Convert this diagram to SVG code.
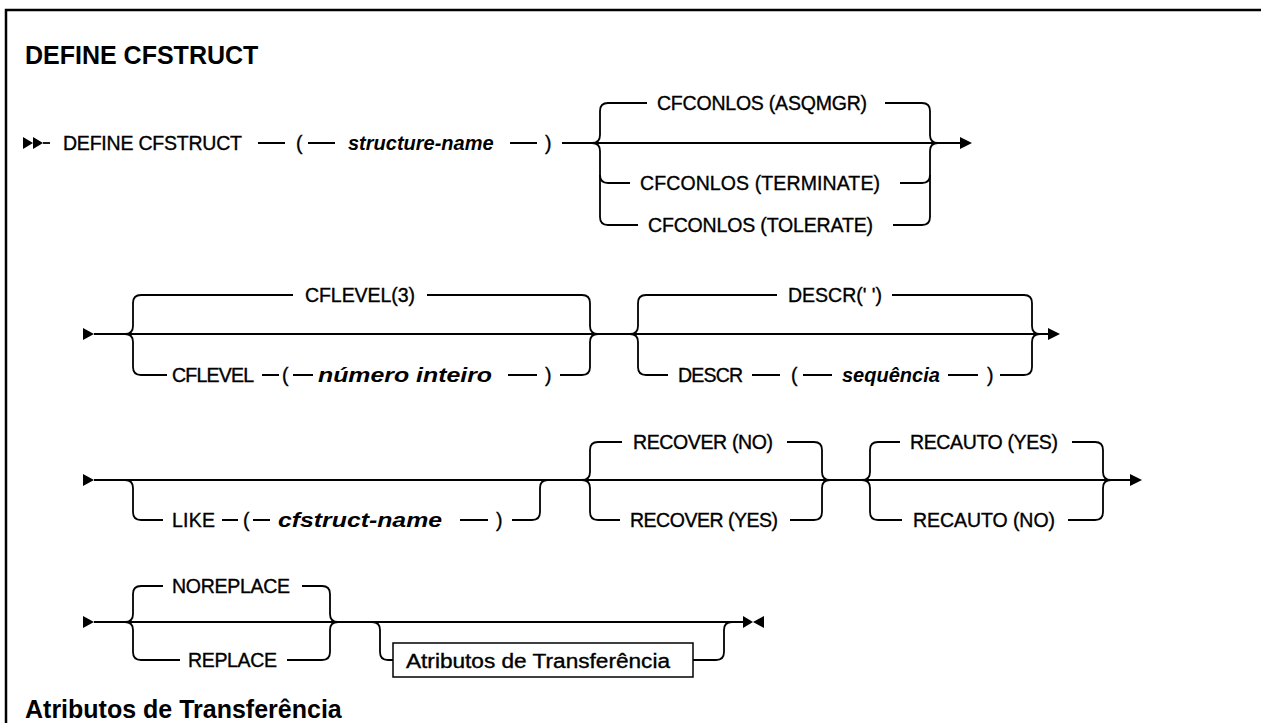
<svg xmlns="http://www.w3.org/2000/svg" width="1261" height="723" viewBox="0 0 1261 723">
  <style>
    .frame { fill: none; stroke: #000; stroke-width: 2.5; }
    .ln { fill: none; stroke: #000; stroke-width: 1.8; }
    .ah { fill: #000; }
    .title { font-family: "Liberation Sans", Arial, sans-serif; font-size: 25px; font-weight: bold; fill: #000; }
    .kw { font-family: "Liberation Sans", Arial, sans-serif; font-size: 19.5px; fill: #000; stroke: #000; stroke-width: 0.35; }
    .var { font-family: "Liberation Sans", Arial, sans-serif; font-size: 20px; font-style: italic; font-weight: bold; fill: #000; }
    .box { fill: #fff; stroke: #000; stroke-width: 1.5; }
  </style>

  <rect width="1261" height="723" fill="#fff"/>
  <path class="frame" d="M6,723 V10 H1261"/>

  <text id="title" class="title" x="25" y="64">DEFINE CFSTRUCT</text>

  <!-- railroad lines, braces and arrowheads -->
  <g id="connectors">
    <!-- row 1 -->
    <polygon class="ah" points="23,137 33,143 23,149"/>
    <polygon class="ah" points="33,137 43,143 33,149"/>
    <path class="ln" d="M43,143 H50"/>
    <path class="ln" d="M258,143 H285 M308,143 H335 M510,143 H537 M562,143 H960"/>
    <polygon class="ah" points="960,137 972,143 960,149"/>
    <path class="ln" d="M592,143 Q600,143 600,135 V111 Q600,103 608,103 H647"/>
    <path class="ln" d="M592,143 Q600,143 600,151 V217 Q600,225 608,225 H638"/>
    <path class="ln" d="M600,175 Q600,183 608,183 H630"/>
    <path class="ln" d="M885,103 H922 Q930,103 930,111 V135 Q930,143 938,143"/>
    <path class="ln" d="M893,225 H922 Q930,225 930,217 V151 Q930,143 938,143"/>
    <path class="ln" d="M900,183 H922 Q930,183 930,175"/>

    <!-- row 2 -->
    <polygon class="ah" points="83,328 94,334 83,340"/>
    <path class="ln" d="M94,334 H1048"/>
    <polygon class="ah" points="1048,328 1060,334 1048,340"/>
    <path class="ln" d="M125,334 Q133,334 133,326 V303 Q133,295 141,295 H293"/>
    <path class="ln" d="M125,334 Q133,334 133,342 V367 Q133,375 141,375 H167"/>
    <path class="ln" d="M262,375 H279 M293,375 H313 M508,375 H537"/>
    <path class="ln" d="M427,295 H582 Q590,295 590,303 V326 Q590,334 598,334"/>
    <path class="ln" d="M560,375 H582 Q590,375 590,367 V342 Q590,334 598,334"/>
    <path class="ln" d="M630,334 Q638,334 638,326 V303 Q638,295 646,295 H777"/>
    <path class="ln" d="M630,334 Q638,334 638,342 V367 Q638,375 646,375 H668"/>
    <path class="ln" d="M752,375 H780 M803,375 H832 M948,375 H978"/>
    <path class="ln" d="M892,295 H1024 Q1032,295 1032,303 V326 Q1032,334 1040,334"/>
    <path class="ln" d="M1000,375 H1024 Q1032,375 1032,367 V342 Q1032,334 1040,334"/>

    <!-- row 3 -->
    <polygon class="ah" points="83,474 94,480 83,486"/>
    <path class="ln" d="M94,480 H1130"/>
    <polygon class="ah" points="1130,474 1142,480 1130,486"/>
    <path class="ln" d="M125,480 Q133,480 133,488 V512 Q133,520 141,520 H163"/>
    <path class="ln" d="M222,520 H238 M253,520 H270 M460,520 H488"/>
    <path class="ln" d="M512,520 H532 Q540,520 540,512 V488 Q540,480 548,480"/>
    <path class="ln" d="M582,480 Q590,480 590,472 V450 Q590,442 598,442 H622"/>
    <path class="ln" d="M582,480 Q590,480 590,488 V512 Q590,520 598,520 H620"/>
    <path class="ln" d="M787,442 H814 Q822,442 822,450 V472 Q822,480 830,480"/>
    <path class="ln" d="M790,520 H814 Q822,520 822,512 V488 Q822,480 830,480"/>
    <path class="ln" d="M862,480 Q870,480 870,472 V450 Q870,442 878,442 H900"/>
    <path class="ln" d="M862,480 Q870,480 870,488 V512 Q870,520 878,520 H902"/>
    <path class="ln" d="M1072,442 H1095 Q1103,442 1103,450 V472 Q1103,480 1111,480"/>
    <path class="ln" d="M1068,520 H1095 Q1103,520 1103,512 V488 Q1103,480 1111,480"/>

    <!-- row 4 -->
    <polygon class="ah" points="83,616 94,622 83,628"/>
    <path class="ln" d="M94,622 H743"/>
    <path class="ln" d="M125,622 Q133,622 133,614 V594 Q133,586 141,586 H163"/>
    <path class="ln" d="M125,622 Q133,622 133,630 V652 Q133,660 141,660 H180"/>
    <path class="ln" d="M302,586 H322 Q330,586 330,594 V614 Q330,622 338,622"/>
    <path class="ln" d="M287,660 H322 Q330,660 330,652 V630 Q330,622 338,622"/>
    <path class="ln" d="M372,622 Q380,622 380,630 V652 Q380,660 388,660 H393"/>
    <path class="ln" d="M693,660 H716 Q724,660 724,652 V630 Q724,622 732,622"/>
    <polygon class="ah" points="743,616 753,622 743,628"/>
    <polygon class="ah" points="764,616 753,622 764,628"/>
  </g>

  <!-- row 1 items -->
  <g id="n-define"><text class="kw" x="63" y="150" textLength="179">DEFINE CFSTRUCT</text></g>
  <g id="n-lp1"><text class="kw" x="296" y="150">(</text></g>
  <g id="n-structure-name"><text class="var" x="348" y="150">structure-name</text></g>
  <g id="n-rp1"><text class="kw" x="545" y="150">)</text></g>
  <g id="n-asqmgr"><text class="kw" x="657" y="110" textLength="210">CFCONLOS (ASQMGR)</text></g>
  <g id="n-terminate"><text class="kw" x="640" y="190" textLength="240">CFCONLOS (TERMINATE)</text></g>
  <g id="n-tolerate"><text class="kw" x="648" y="232" textLength="225">CFCONLOS (TOLERATE)</text></g>

  <!-- row 2 items -->
  <g id="n-cflevel3"><text class="kw" x="305" y="302" textLength="110">CFLEVEL(3)</text></g>
  <g id="n-cflevel"><text class="kw" x="172" y="382" textLength="82">CFLEVEL</text></g>
  <g id="n-lp2"><text class="kw" x="282" y="382">(</text></g>
  <g id="n-numero"><text class="var" x="318" y="382" textLength="174" lengthAdjust="spacingAndGlyphs">número inteiro</text></g>
  <g id="n-rp2"><text class="kw" x="545" y="382">)</text></g>
  <g id="n-descr-default"><text class="kw" x="788" y="302" textLength="94">DESCR(' ')</text></g>
  <g id="n-descr"><text class="kw" x="678" y="382" textLength="65">DESCR</text></g>
  <g id="n-lp3"><text class="kw" x="791" y="382">(</text></g>
  <g id="n-sequencia"><text class="var" x="842" y="382">sequência</text></g>
  <g id="n-rp3"><text class="kw" x="987" y="382">)</text></g>

  <!-- row 3 items -->
  <g id="n-like"><text class="kw" x="172" y="527" textLength="43">LIKE</text></g>
  <g id="n-lp4"><text class="kw" x="243" y="527">(</text></g>
  <g id="n-cfstruct-name"><text class="var" x="278" y="527" textLength="164" lengthAdjust="spacingAndGlyphs">cfstruct-name</text></g>
  <g id="n-rp4"><text class="kw" x="496" y="527">)</text></g>
  <g id="n-recover-no"><text class="kw" x="633" y="449" textLength="140">RECOVER (NO)</text></g>
  <g id="n-recover-yes"><text class="kw" x="630" y="527" textLength="148">RECOVER (YES)</text></g>
  <g id="n-recauto-yes"><text class="kw" x="910" y="449" textLength="148">RECAUTO (YES)</text></g>
  <g id="n-recauto-no"><text class="kw" x="913" y="527" textLength="142">RECAUTO (NO)</text></g>

  <!-- row 4 items -->
  <g id="n-noreplace"><text class="kw" x="172" y="593" textLength="118">NOREPLACE</text></g>
  <g id="n-replace"><text class="kw" x="188" y="667" textLength="89">REPLACE</text></g>
  <g id="n-attrs-ref">
    <rect class="box" x="393" y="643" width="300" height="34"/>
    <text class="kw" x="406" y="668" font-size="21.5" textLength="264" lengthAdjust="spacingAndGlyphs">Atributos de Transferência</text>
  </g>

  <text id="subtitle" class="title" x="25" y="718">Atributos de Transferência</text>
</svg>
